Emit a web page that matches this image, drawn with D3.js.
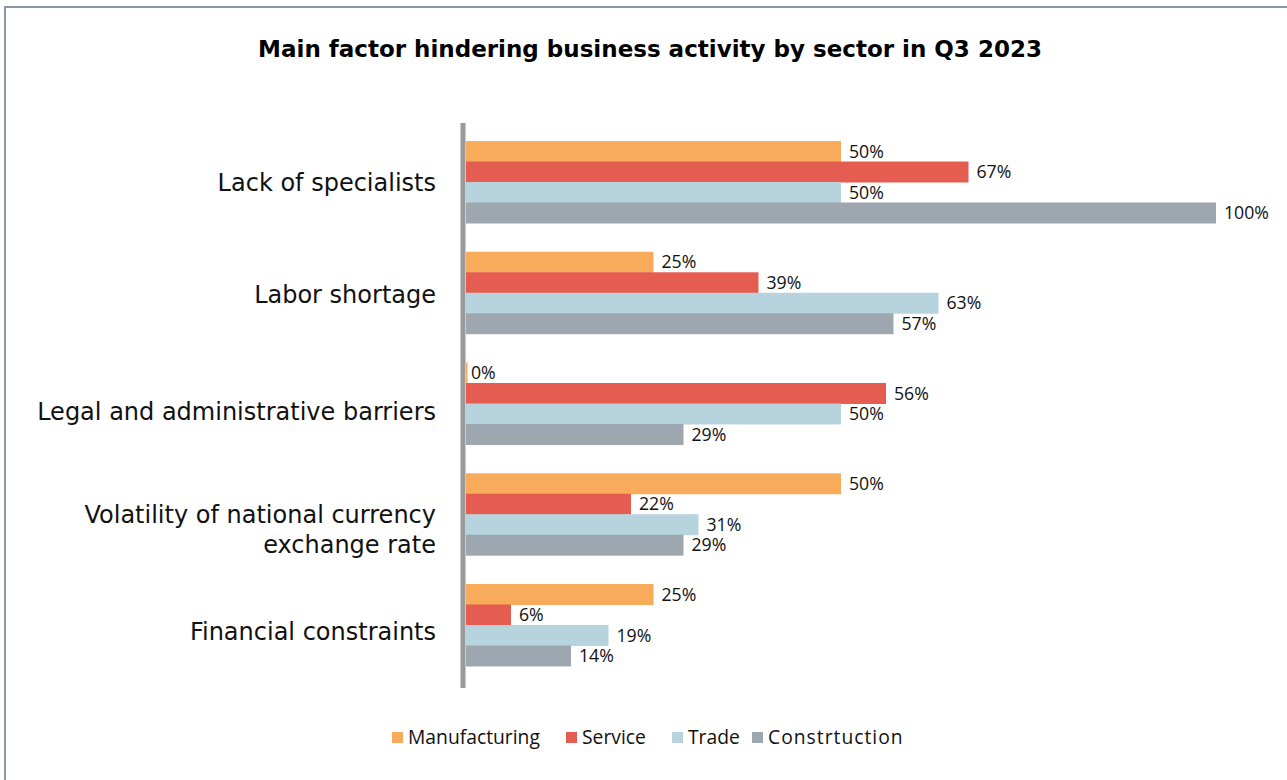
<!DOCTYPE html>
<html><head><meta charset="utf-8">
<script src="https://cdn.jsdelivr.net/npm/d3@7"></script>
<style>body{margin:0;background:#fff;} svg{display:block;}</style>
</head><body>
<svg id="c" width="1287" height="780"></svg>
<script>
const categories = ["Lack of specialists","Labor shortage","Legal and administrative barriers","Volatility of national currency exchange rate","Financial constraints"];
const categoryLines = [["Lack of specialists"],["Labor shortage"],["Legal and administrative barriers"],["Volatility of national currency","exchange rate"],["Financial constraints"]];
const seriesNames = ["Manufacturing","Service","Trade","Constrtuction"];
const manufacturing = [50,25,0,50,25];
const service = [67,39,56,22,6];
const trade = [50,63,50,31,19];
const construction = [100,57,29,29,14];
const colors = ["#F8AC5B","#E55C50","#B7D3DD","#9EA7B0"];
const values = [manufacturing, service, trade, construction];

// layout: vertical nudge of category labels relative to group centre
const labelNudge = [0, 1.5, 8, 0, 6.5];

const svg = d3.select("#c");
svg.append("rect").attr("x",5).attr("y",7).attr("width",1300).attr("height",800)
  .attr("fill","#fff").attr("stroke","#8a97a6").attr("stroke-width",2);

svg.append("text").attr("x",650).attr("y",57).attr("text-anchor","middle")
  .attr("font-family","DejaVu Sans").attr("font-weight","bold").attr("font-size",23)
  .attr("fill","#000").text("Main factor hindering business activity by sector in Q3 2023");

const y = d3.scaleBand().domain(categories).range([121,686]).paddingInner(0.26).paddingOuter(0.181);
const y1 = d3.scaleBand().domain(seriesNames).range([0, y.bandwidth()]);
const x = d3.scaleLinear().domain([0,100]).range([466,1216]);

const g = svg.append("g");
categories.forEach((cat,i)=>{
  seriesNames.forEach((s,j)=>{
    const v = values[j][i];
    const yy = y(cat)+y1(s);
    g.append("rect").attr("x",x(0)).attr("y",yy).attr("width",Math.max(x(v)-x(0),1.5)).attr("height",y1.bandwidth()+0.5).attr("fill",colors[j]);
    g.append("text").attr("x",x(v)+ (v===0?5:8)).attr("y",yy+y1.bandwidth()/2).attr("dy","0.36em")
      .attr("font-family","Open Sans").attr("font-size",17.7).attr("fill","#111").text(v+"%");
  });
  const lines = categoryLines[i];
  const cy = y(cat)+y.bandwidth()/2 + labelNudge[i];
  const lh = 30;
  lines.forEach((t,k)=>{
    svg.append("text").attr("x",436).attr("y",cy + (k-(lines.length-1)/2)*lh + (lines.length>1?15:0)).attr("dy","0.36em")
      .attr("text-anchor","end").attr("font-family","DejaVu Sans").attr("font-size",24).attr("fill","#111").text(t);
  });
});

// axis line
const axis = d3.axisLeft(y).tickSize(0).tickFormat("");
const ag = svg.append("g").attr("transform","translate(463,0)").call(axis);
ag.select(".domain").attr("stroke","#9a9a9c").attr("stroke-width",5).attr("d","M0,123V688");

// legend
const legX = [392,566,672,752];
seriesNames.forEach((s,j)=>{
  svg.append("rect").attr("x",legX[j]).attr("y",732).attr("width",11).attr("height",11).attr("fill",colors[j]);
  const t = svg.append("text").attr("x",legX[j]+16).attr("y",737.5).attr("dy","0.36em")
    .attr("font-family","Open Sans").attr("font-size",19.3).attr("fill","#111").text(s);
  if (j===3) t.attr("letter-spacing",1);
});
</script>
</body></html>
